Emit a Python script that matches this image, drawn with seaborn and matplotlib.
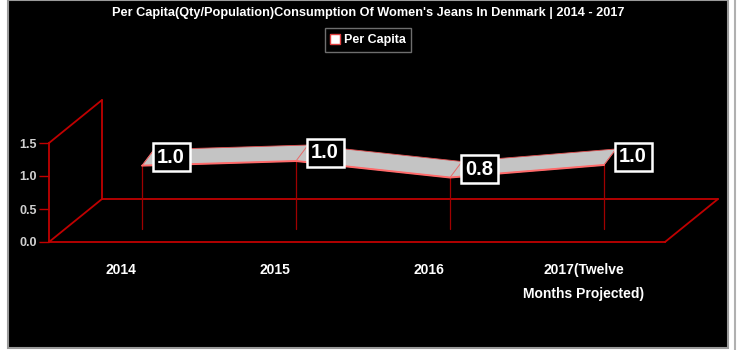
import numpy as np
import pandas as pd
import matplotlib
matplotlib.use("Agg")
import matplotlib.pyplot as plt
from matplotlib.lines import Line2D
from matplotlib.patches import Rectangle
import seaborn as sns

# chart data
years = ["2014", "2015", "2016", "2017(Twelve\nMonths Projected)"]
per_capita = [0.96, 1.03, 0.78, 0.97]
y_ticks = [0.0, 0.5, 1.0, 1.5]
title = "Per Capita(Qty/Population)Consumption Of Women's Jeans In Denmark | 2014 - 2017"

sns.set_theme(style="dark")
plt.rcParams["font.family"] = ["Liberation Sans", "DejaVu Sans"]

W, H = 740, 350
fig = plt.figure(figsize=(W / 100, H / 100), dpi=100, facecolor="white")

# black chart area with grey frame
fig.patches.append(Rectangle((8 / W, 2 / H), 720 / W, 348 / H, transform=fig.transFigure,
                             facecolor="black", edgecolor="#9a9a9a", lw=1.5, zorder=-5))
fig.lines.append(Line2D([735 / W, 735 / W], [0, 1], transform=fig.transFigure, color="#b0b0b0",
                        lw=1.5, zorder=-5))

# front plane of the 3D box
ax = fig.add_axes([49 / W, (H - 242) / H, 616 / W, 99 / H])
ax.set_facecolor("none")
ax.set_xlim(-0.5, len(years) - 0.5)
ax.set_ylim(0, 1.5)

px_x = 616 / len(years)   # pixels per category
px_y = 99 / 1.5           # pixels per unit
# depth of the box, of the ribbon position and of the ribbon width (in data units)
dep_x, dep_y = 53 / px_x, 43 / px_y
rib_x, rib_y = 16 / px_x, 13 / px_y
wid_x, wid_y = 12 / px_x, 16 / px_y

red = "#c00000"
x0, x1 = -0.5, len(years) - 0.5
box_lines = [
    ([x0 + dep_x, x1 + dep_x], [dep_y, dep_y]),
    ([x1, x1 + dep_x], [0, dep_y]),
    ([x0, x0 + dep_x], [0, dep_y]),
    ([x0 + dep_x, x0 + dep_x], [dep_y, 1.5 + dep_y]),
    ([x0, x0 + dep_x], [1.5, 1.5 + dep_y]),
]
for bx, by in box_lines:
    ax.plot(bx, by, color=red, lw=1.3, clip_on=False, zorder=1)

idx = np.arange(len(years))
df = pd.DataFrame({"x": idx + rib_x, "y": np.array(per_capita) + rib_y})

# drop lines from the floor to the ribbon
for xv, yv in zip(df["x"], df["y"]):
    ax.plot([xv, xv], [rib_y, yv], color="#a00000", lw=0.9, clip_on=False, zorder=2)

# ribbon top face
poly_x = np.concatenate([df["x"], (df["x"] + wid_x)[::-1]])
poly_y = np.concatenate([df["y"], (df["y"] + wid_y)[::-1]])
ax.fill(poly_x, poly_y, facecolor="#c4c4c4", edgecolor="#e05050", lw=0.6, clip_on=False, zorder=3)
for xv, yv in zip(df["x"], df["y"]):
    ax.plot([xv, xv + wid_x], [yv, yv + wid_y], color="#e86a6a", lw=0.7, clip_on=False, zorder=4)
sns.lineplot(data=df, x="x", y="y", ax=ax, color="#ff6a6a", lw=1.4, clip_on=False, zorder=4,
             legend=False)

# value labels
for xv, yv, v in zip(df["x"], df["y"], per_capita):
    ax.annotate(f"{v:.1f}", (xv, yv), xytext=(21, 6), textcoords="offset points",
                ha="center", va="center", color="white", fontsize=14.5, fontweight="bold",
                zorder=6, bbox=dict(boxstyle="square,pad=0.22", fc="black", ec="white", lw=1.8))

# axes styling
for s in ["top", "right"]:
    ax.spines[s].set_visible(False)
for s in ["left", "bottom"]:
    ax.spines[s].set_color(red)
    ax.spines[s].set_linewidth(1.3)
ax.set_yticks(y_ticks)
ax.set_yticklabels([f"{t:.1f}" for t in y_ticks], color="#d0d0d0", fontsize=9, fontweight="bold")
ax.tick_params(axis="y", length=7, width=1, color=red, pad=2, left=True)
ax.set_xticks(idx - 0.03)
ax.set_xticklabels(years, color="white", fontsize=10, fontweight="bold", linespacing=1.9)
ax.tick_params(axis="x", length=0, pad=15)
ax.set_xlabel("")
ax.set_ylabel("")
ax.grid(False)

fig.text(368 / W, 1 - 13 / H, title, ha="center", va="center", color="white",
         fontsize=9.2, fontweight="bold")

handle = Line2D([], [], marker="s", ls="none", markersize=7, markerfacecolor="white",
                markeredgecolor="#e04040", markeredgewidth=1)
leg = fig.legend([handle], ["Per Capita"], loc="center", bbox_to_anchor=(368 / W, 1 - 40 / H),
                 frameon=True, fancybox=False, facecolor="black", edgecolor="#8a8a8a",
                 handlelength=0.8, handletextpad=0.3, borderpad=0.45,
                 prop={"size": 9, "weight": "bold"})
for t in leg.get_texts():
    t.set_color("white")

fig.savefig("out.png", dpi=100, facecolor="white")
